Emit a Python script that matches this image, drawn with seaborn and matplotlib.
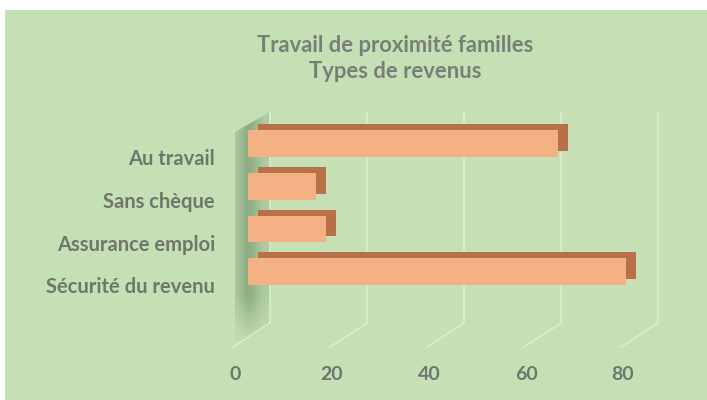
import numpy as np
import pandas as pd
import matplotlib
matplotlib.use("Agg")
import matplotlib.pyplot as plt
import matplotlib.transforms as mtransforms
from matplotlib.patches import Rectangle, Polygon
import seaborn as sns

# ---- data ----
categories = ["Au travail", "Sans chèque", "Assurance emploi", "Sécurité du revenu"]
values = [64, 14, 16, 78]
xticks = [0, 20, 40, 60, 80]
title_line1 = "Travail de proximité familles"
title_line2 = "Types de revenus"

df = pd.DataFrame({"cat": categories, "val": values})

sns.set_style("white")
plt.rcParams["font.family"] = ["Lato", "DejaVu Sans"]

W, H = 707, 400
fig = plt.figure(figsize=(W / 100, H / 100), dpi=100)
fig.patch.set_facecolor("white")
bg = "#c5e0b4"
fig.patches.append(Rectangle((5 / W, 0), 1 - 5 / W, 1 - 10 / H, transform=fig.transFigure,
                             facecolor=bg, edgecolor="none", zorder=-10))

# ---- left side wall (3D look) ----
wall = fig.add_axes([235 / W, 1 - 348 / H, 35 / W, (348 - 110) / H])
wall.set_axis_off()
wall.set_xlim(0, 35)
wall.set_ylim(348, 110)
nx, ny = 35, 240
xs = np.linspace(0, 1, nx)
ys = np.linspace(110, 348, ny)
prof = 0.25 + 0.45 * np.exp(-((xs - 0.4) / 0.3) ** 2)
vfade = np.clip((345 - ys) / 50, 0, 1)
img = np.zeros((ny, nx, 4))
img[..., 0] = 118 / 255
img[..., 1] = 152 / 255
img[..., 2] = 112 / 255
img[..., 3] = vfade[:, None] * prof[None, :]
im = wall.imshow(img, extent=(0, 35, 348, 110), aspect="auto", interpolation="bilinear")
poly = Polygon([(35, 112), (35, 325), (0, 347), (0, 132)], closed=True,
               transform=wall.transData, facecolor="none", edgecolor="none")
wall.add_patch(poly)
im.set_clip_path(poly)

# ---- main axes ----
px_per_unit = 4.85
xmin = -3.0
xmax = (660 - 248) / px_per_unit
ax_left_px = 248 + xmin * px_per_unit
ax = fig.add_axes([ax_left_px / W, 1 - 323 / H, (660 - ax_left_px) / W, (323 - 118) / H])
ax.patch.set_alpha(0)

# back (3D depth) bars
sns.barplot(data=df, x="val", y="cat", orient="h", color="#b97048", width=0.63,
            saturation=1, linewidth=0, ax=ax, zorder=2)
offset = mtransforms.ScaledTranslation(10 / 100, 6 / 100, fig.dpi_scale_trans)
for p in list(ax.patches):
    p.set_transform(ax.transData + offset)
    p.set_clip_on(False)
# front faces
sns.barplot(data=df, x="val", y="cat", orient="h", color="#f4b183", width=0.63,
            saturation=1, linewidth=0, ax=ax, zorder=3)

# back-plane gridlines and floor diagonals
grid_c = "#dcecd2"
back_dx = 22 / px_per_unit
front_dx = -15 / px_per_unit
trans = ax.get_xaxis_transform()
for t in xticks:
    ax.plot([t + back_dx, t + back_dx], [0, 1 + 6 / 205], transform=trans, color=grid_c,
            lw=1.2, zorder=1, clip_on=False)
    ax.plot([t + back_dx, t + front_dx], [0, -24 / 205], transform=trans, color=grid_c,
            lw=1.2, zorder=1, clip_on=False)

# ticks & labels
txt_c = "#6d776d"
ax.set_xticks(np.array(xticks) - 13 / px_per_unit, [str(t) for t in xticks])
ax.set_yticks(np.arange(len(categories)) + 0.32, categories)
ax.tick_params(axis="x", length=0, pad=31, labelsize=14, labelcolor=txt_c)
ax.tick_params(axis="y", length=0, pad=(ax_left_px - 215) * 0.72, labelsize=14.5,
               labelcolor=txt_c)
for lab in ax.get_xticklabels() + ax.get_yticklabels():
    lab.set_fontweight("bold")
ax.set_xlabel("")
ax.set_ylabel("")
for s in ax.spines.values():
    s.set_visible(False)

ax.set_xlim(xmin, xmax)
ax.set_ylim(4.2, -0.6)

# title
title_c = "#778077"
fig.text(395 / W, 1 - 45 / H, title_line1, ha="center", va="center", fontsize=15.8,
         fontweight="bold", color=title_c)
fig.text(395 / W, 1 - 72 / H, title_line2, ha="center", va="center", fontsize=15.8,
         fontweight="bold", color=title_c)

fig.savefig("out.png", dpi=100, facecolor=fig.get_facecolor())
